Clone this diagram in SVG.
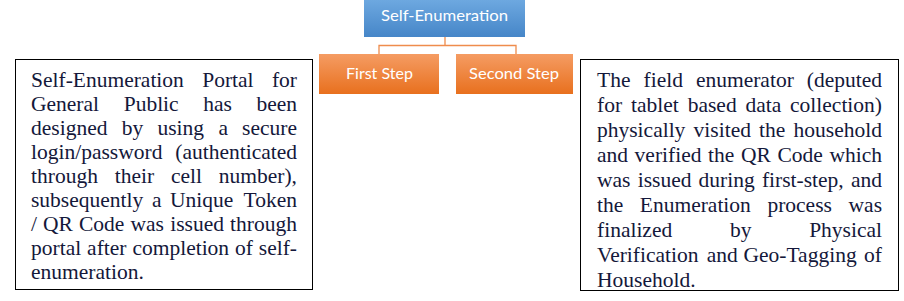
<svg xmlns="http://www.w3.org/2000/svg" width="904" height="301" viewBox="0 0 904 301">
<defs>
<linearGradient id="gBlue" x1="0" y1="0" x2="0" y2="1"><stop offset="0" stop-color="#6DA8E0"/><stop offset="1" stop-color="#4686C8"/></linearGradient>
<linearGradient id="gOrange" x1="0" y1="0" x2="0" y2="1"><stop offset="0" stop-color="#F59C63"/><stop offset="1" stop-color="#E8701E"/></linearGradient>
<style>
.lbl{font-family:Lato,"Liberation Sans",sans-serif;font-size:15px;fill:#ffffff;text-anchor:middle}
.txt{font-family:'Liberation Serif','DejaVu Serif',serif;font-size:21.5px;fill:#14183A}
.e{text-anchor:end}
.box{fill:#ffffff;stroke:#000000;stroke-width:1}
.conn{fill:none;stroke:#EF8C4C;stroke-width:1.3}
</style>
</defs>
<rect width="904" height="301" fill="#ffffff"/>
<g id="connectors">
<path class="conn" d="M445 37 V45.5 M379 54 V45.5 H516 V54"/>
</g>
<g id="self-enumeration">
<rect x="364" y="0" width="161" height="37" fill="url(#gBlue)"/>
<text class="lbl" x="444.5" y="21" textLength="127" lengthAdjust="spacingAndGlyphs">Self-Enumeration</text>
</g>
<g id="first-step">
<rect x="319" y="54" width="120" height="40" fill="url(#gOrange)"/>
<text class="lbl" x="379.5" y="79" textLength="67" lengthAdjust="spacingAndGlyphs">First Step</text>
</g>
<g id="second-step">
<rect x="456" y="54" width="117" height="40" fill="url(#gOrange)"/>
<text class="lbl" x="514" y="79" textLength="90" lengthAdjust="spacingAndGlyphs">Second Step</text>
</g>
<g id="first-step-text">
<rect class="box" x="15.5" y="59.5" width="297" height="230"/>
<text class="txt" y="86.5"><tspan x="31">Self-Enumeration</tspan><tspan x="202.2">Portal</tspan><tspan x="297" class="e">for</tspan></text>
<text class="txt" y="110.5"><tspan x="31">General</tspan><tspan x="123.7">Public</tspan><tspan x="203.3">has</tspan><tspan x="297" class="e">been</tspan></text>
<text class="txt" y="134.5"><tspan x="31">designed</tspan><tspan x="121.8">by</tspan><tspan x="157.5">using</tspan><tspan x="218.4">a</tspan><tspan x="297" class="e">secure</tspan></text>
<text class="txt" y="158.5"><tspan x="31">login/password</tspan><tspan x="297" class="e">(authenticated</tspan></text>
<text class="txt" y="182.5"><tspan x="31">through</tspan><tspan x="114.7">their</tspan><tspan x="170.9">cell</tspan><tspan x="297" class="e">number),</tspan></text>
<text class="txt" y="206.5"><tspan x="31">subsequently</tspan><tspan x="151.9">a</tspan><tspan x="170">Unique</tspan><tspan x="297" class="e">Token</tspan></text>
<text class="txt" y="230.5"><tspan x="31">/</tspan><tspan x="43">QR</tspan><tspan x="79">Code</tspan><tspan x="130.5">was</tspan><tspan x="170.2">issued</tspan><tspan x="297" class="e">through</tspan></text>
<text class="txt" y="254.5"><tspan x="31">portal</tspan><tspan x="87.1">after</tspan><tspan x="132.4">completion</tspan><tspan x="235">of</tspan><tspan x="297" class="e">self-</tspan></text>
<text class="txt" x="31" y="278.5">enumeration.</text>
</g>
<g id="second-step-text">
<rect class="box" x="580.5" y="59.5" width="318" height="231"/>
<text class="txt" y="87"><tspan x="597">The</tspan><tspan x="643.5">field</tspan><tspan x="695.9">enumerator</tspan><tspan x="882" class="e">(deputed</tspan></text>
<text class="txt" y="112"><tspan x="597">for</tspan><tspan x="631">tablet</tspan><tspan x="687.7">based</tspan><tspan x="745.5">data</tspan><tspan x="882" class="e">collection)</tspan></text>
<text class="txt" y="137"><tspan x="597">physically</tspan><tspan x="693.6">visited</tspan><tspan x="759.1">the</tspan><tspan x="882" class="e">household</tspan></text>
<text class="txt" y="162"><tspan x="597">and</tspan><tspan x="634.6">verified</tspan><tspan x="708.1">the</tspan><tspan x="741">QR</tspan><tspan x="777.5">Code</tspan><tspan x="882" class="e">which</tspan></text>
<text class="txt" y="187"><tspan x="597">was</tspan><tspan x="637.7">issued</tspan><tspan x="698.6">during</tspan><tspan x="761.9">first-step,</tspan><tspan x="882" class="e">and</tspan></text>
<text class="txt" y="212"><tspan x="597">the</tspan><tspan x="639.8">Enumeration</tspan><tspan x="767.4">process</tspan><tspan x="882" class="e">was</tspan></text>
<text class="txt" y="237"><tspan x="597">finalized</tspan><tspan x="729.9">by</tspan><tspan x="882" class="e">Physical</tspan></text>
<text class="txt" y="262"><tspan x="597">Verification</tspan><tspan x="706.7">and</tspan><tspan x="743.5">Geo-Tagging</tspan><tspan x="882" class="e">of</tspan></text>
<text class="txt" x="597" y="287">Household.</text>
</g>
</svg>
